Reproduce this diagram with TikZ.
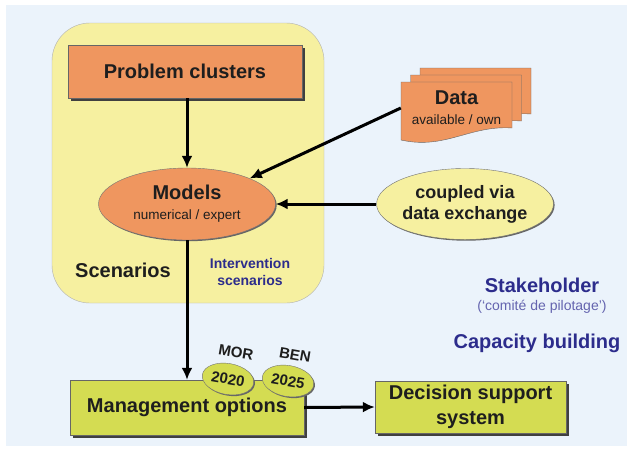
\documentclass[tikz,border=0pt]{standalone}
\usepackage{fontspec}
\setmainfont{Liberation Sans}
\usetikzlibrary{arrows.meta,positioning,shapes.geometric,shadows}
\definecolor{bgblue}{RGB}{235,243,251}
\definecolor{scenyellow}{RGB}{246,240,160}
\definecolor{boxorange}{RGB}{239,150,95}
\definecolor{optgreen}{RGB}{212,220,82}
\definecolor{labelblue}{RGB}{44,44,140}
\definecolor{paleblue}{RGB}{100,100,175}
\definecolor{inktext}{RGB}{30,30,30}
\newcommand\diagbig{\fontsize{20}{23}\selectfont}
\newcommand\diagmid{\fontsize{18}{21}\selectfont}
\newcommand\diagsmall{\fontsize{13.5}{16}\selectfont\mdseries}

\begin{document}
\begin{tikzpicture}[x=1pt,y=-1pt,>={Latex[length=12pt,width=11pt]},
  every node/.style={font=\bfseries\diagbig,text=inktext},
  block/.style={rectangle,draw=black!60,thin,drop shadow={shadow xshift=3pt,shadow yshift=-3pt,opacity=1,fill=black!75}},
  blob/.style={ellipse,draw=black!55,thin,inner sep=0pt,drop shadow={shadow xshift=1.2pt,shadow yshift=-1.2pt,opacity=1,fill=black!60}},
  page/.style={fill=boxorange,draw=black!60,thin},
  flow/.style={->,line width=3pt},
  tag/.style={font=\bfseries\fontsize{15}{15}\selectfont,rotate=-10}]
  \useasboundingbox (0,0) rectangle (627,448);
  \fill[white] (0,0) rectangle (627,448);
  \fill[bgblue] (6,5) rectangle (627,446);

  \node[rectangle,rounded corners=38pt,fill=scenyellow,draw=black!30,minimum width=272,minimum height=280] (scen) at (188,163) {};
  \node (scenlabel) at (123,270) {Scenarios};
  \node[align=center,text=labelblue,font=\bfseries\fontsize{14}{17}\selectfont] (intv) at (250,272) {Intervention\\scenarios};

  \node[block,fill=boxorange,minimum width=234,minimum height=53] (pc) at (185,71.5) {Problem clusters};
  \node[blob,fill=boxorange,minimum width=177,minimum height=72,align=center] (models) at (187,204) {Models\\[-3pt]{\diagsmall numerical / expert}};

  \foreach \dx/\dy in {19/-14,9.5/-7,0/0}
    \draw[page] (401+\dx,82+\dy) -- (512+\dx,82+\dy) -- (512+\dx,128+\dy)
      .. controls (470+\dx,125+\dy) and (445+\dx,150+\dy) .. (401+\dx,140+\dy) -- cycle;
  \node[minimum width=111,minimum height=50,align=center] (data) at (456.5,108) {Data\\[-3pt]{\diagsmall available / own}};

  \node[blob,fill=scenyellow,minimum width=174,minimum height=71,align=center,font=\bfseries\diagmid] (coupled) at (465,204) {coupled via\\data exchange};

  \node[block,fill=optgreen,minimum width=234,minimum height=55] (mgmt) at (187,407.5) {Management options};
  \node[block,fill=optgreen,minimum width=191,minimum height=52,align=center] (dss) at (470.5,407) {Decision support\\[2pt]system};

  \node[blob,fill=optgreen,minimum width=52,minimum height=31,tag] (mor) at (228,379) {2020};
  \node[blob,fill=optgreen,minimum width=52,minimum height=31,tag] (ben) at (288,381) {2025};
  \node[tag] (morlabel) at (236,352) {MOR};
  \node[tag] (benlabel) at (295,355) {BEN};

  \node[text=labelblue] (stake) at (542,285) {Stakeholder};
  \node[text=paleblue,font=\fontsize{14}{16}\selectfont] (comite) at (542,307) {(`comité de pilotage')};
  \node[text=labelblue] (capacity) at (537,343) {Capacity building};

  \path[flow] (models.north |- pc.south) edge (models.north)
              (data.west) edge (models.north east)
              (coupled.west) edge (models.east)
              (models.south) edge (mgmt.north)
              (mgmt.east) edge (dss.west);
\end{tikzpicture}
\end{document}
